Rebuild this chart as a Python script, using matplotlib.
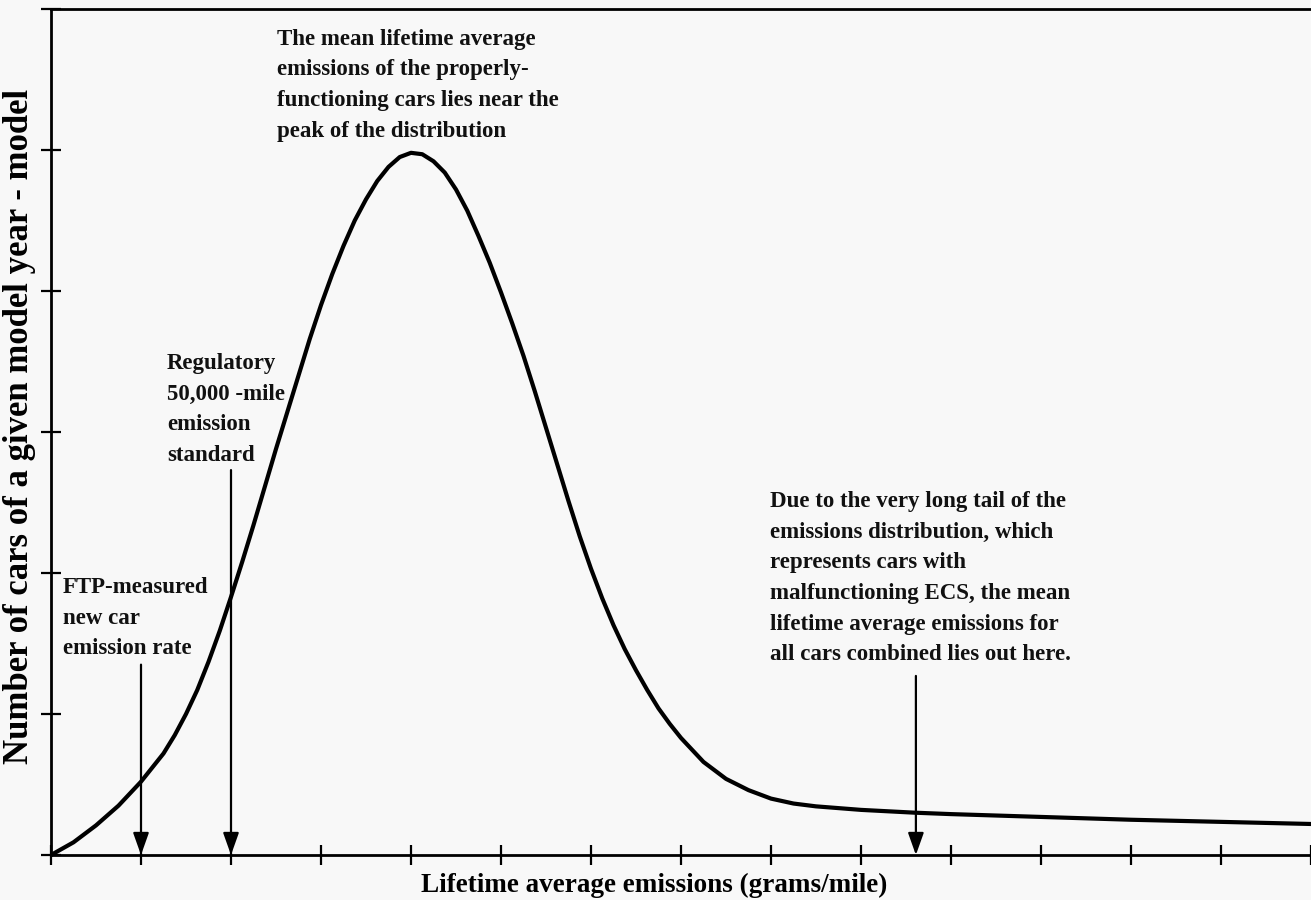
import matplotlib
matplotlib.use("Agg")
import matplotlib.pyplot as plt

# curve (x in tick units, y in tick units)
emis_x = [0, 0.25, 0.5, 0.75, 1.0, 1.25, 1.375, 1.5, 1.625, 1.75, 1.875,
          2.0, 2.125, 2.25, 2.375, 2.5, 2.625, 2.75, 2.875, 3.0, 3.125, 3.25,
          3.375, 3.5, 3.625, 3.75, 3.875, 4.0, 4.125, 4.25, 4.375, 4.5, 4.625,
          4.75, 4.875, 5.0, 5.125, 5.25, 5.375, 5.5, 5.625, 5.75, 5.875, 6.0,
          6.125, 6.25, 6.375, 6.5, 6.625, 6.75, 6.875, 7.0, 7.25, 7.5, 7.75,
          8.0, 8.25, 8.5, 9.0, 9.6, 10.0, 11.0, 12.0, 13.0, 14.0]
n_cars = [0, 0.09, 0.21, 0.35, 0.52, 0.72, 0.85, 1.00, 1.17, 1.37, 1.59,
          1.83, 2.08, 2.34, 2.61, 2.88, 3.14, 3.40, 3.66, 3.90, 4.12, 4.32,
          4.50, 4.65, 4.78, 4.88, 4.95, 4.98, 4.97, 4.92, 4.84, 4.72, 4.57,
          4.39, 4.20, 3.99, 3.77, 3.54, 3.29, 3.03, 2.77, 2.51, 2.26, 2.03,
          1.82, 1.63, 1.46, 1.31, 1.17, 1.04, 0.93, 0.83, 0.66, 0.54, 0.46,
          0.40, 0.365, 0.345, 0.32, 0.30, 0.29, 0.27, 0.25, 0.235, 0.22]

x_ticks = list(range(0, 15))
y_ticks = list(range(0, 7))

# arrows: (x position, start height)
ftp_arrow = (1.0, 1.35)
reg_arrow = (2.0, 2.73)
fleet_arrow = (9.61, 1.27)

peak_note = ("The mean lifetime average\nemissions of the properly-\n"
             "functioning cars lies near the\npeak of the distribution")
reg_note = "Regulatory\n50,000 -mile\nemission\nstandard"
ftp_note = "FTP-measured\nnew car\nemission rate"
tail_note = ("Due to the very long tail of the\nemissions distribution, which\n"
             "represents cars with\nmalfunctioning ECS, the mean\n"
             "lifetime average emissions for\nall cars combined lies out here.")

plt.rcParams['font.family'] = ['Liberation Serif', 'DejaVu Serif']
plt.rcParams['font.weight'] = 'bold'

bg = '#f8f8f8'
fig = plt.figure(figsize=(13.11, 9), dpi=100, facecolor=bg)
ax = fig.add_axes([51 / 1311, 45 / 900, 1260 / 1311, 846 / 900])
ax.set_facecolor(bg)

ax.plot(emis_x, n_cars, color='black', linewidth=3.0,
        solid_capstyle='round', solid_joinstyle='round')

arrow_kw = dict(arrowstyle='-|>,head_length=0.9,head_width=0.32',
                color='black', lw=1.6, mutation_scale=15,
                shrinkA=0, shrinkB=0)
for ax_x, top in (ftp_arrow, reg_arrow, fleet_arrow):
    ax.annotate('', xy=(ax_x, 0), xytext=(ax_x, top), arrowprops=arrow_kw)

note_kw = dict(fontsize=16.5, fontweight='bold', ha='left', va='top',
               linespacing=1.6, color='#111111')
ax.text(2.51, 5.86, peak_note, **note_kw)
ax.text(1.29, 3.56, reg_note, **note_kw)
ax.text(0.13, 1.97, ftp_note, **note_kw)
ax.text(7.99, 2.58, tail_note, **note_kw)

ax.set_xlim(0, 14)
ax.set_ylim(0, 6)
ax.set_xticks(x_ticks)
ax.set_yticks(y_ticks)
ax.set_xticklabels([])
ax.set_yticklabels([])
ax.tick_params(axis='both', direction='inout', length=15, width=1.6,
               colors='black')
ax.spines['right'].set_visible(False)
for s in ('left', 'bottom', 'top'):
    ax.spines[s].set_linewidth(2.0)

fig.text(654 / 1311, 15 / 900, 'Lifetime average emissions (grams/mile)',
         fontsize=19.5, fontweight='bold', ha='center', va='center')
fig.text(20 / 1311, 474 / 900, 'Number of cars of a given model year - model',
         fontsize=25, fontweight='bold', ha='center', va='center',
         rotation=90)

fig.savefig('out.png', dpi=100, facecolor=bg)
